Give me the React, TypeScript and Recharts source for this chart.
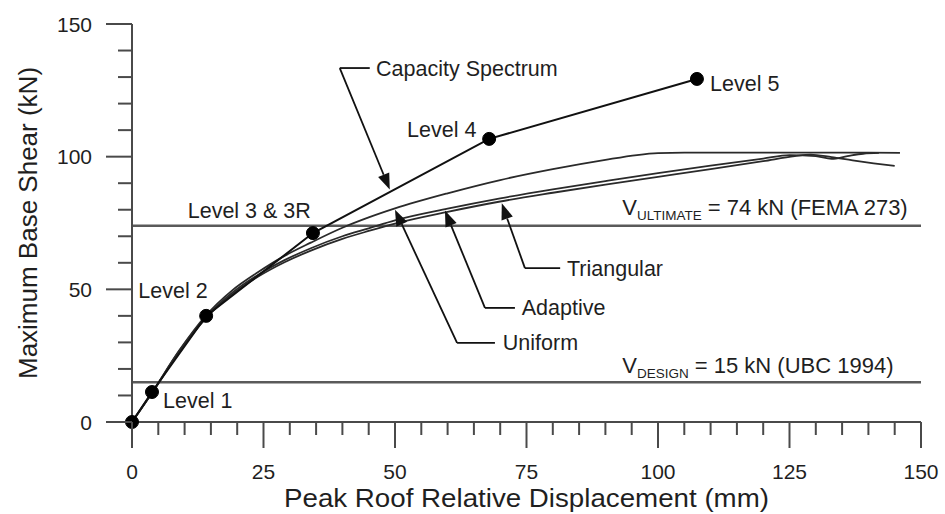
import { LineChart, Line, XAxis, YAxis, ReferenceLine, ReferenceDot, Label } from "recharts";

const FONT = '"Liberation Sans", Arial, sans-serif';
const INK = "#1f1f1f";

// capacity spectrum performance levels
const capacityX = [0, 3.8, 14.1, 34.4, 67.9, 107.4];
const capacityY = [0, 11.3, 40, 71.2, 106.7, 129.3];

// pushover curves for the three load patterns
const uniformX = [0, 4, 9, 14, 19, 24, 29, 34, 40, 45, 50, 60, 70, 80, 90, 96, 100, 105, 110, 120, 130, 140, 146];
const uniformY = [0, 11.7, 27, 40, 49.5, 56.5, 62.6, 67.6, 73.2, 77.1, 80.5, 86.2, 91.2, 95.3, 98.8, 100.6, 101.3, 101.5, 101.5, 101.5, 101.5, 101.5, 101.4];

const adaptiveX = [0, 4, 9, 14, 19, 24, 29, 34, 40, 45, 50, 60, 70, 80, 90, 100, 110, 120, 125, 130, 133, 136, 139, 142];
const adaptiveY = [0, 11.6, 26.8, 39.4, 48.6, 55.5, 61, 65.5, 70, 73, 76, 80.4, 84.3, 87.7, 90.8, 93.8, 96.6, 99.3, 100.6, 100.2, 99.2, 100.2, 101.1, 101.4];

const triangularX = [0, 4, 9, 14, 19, 24, 29, 34, 40, 45, 50, 60, 70, 80, 90, 100, 110, 120, 126, 129, 133, 137, 141, 145];
const triangularY = [0, 11.5, 26.5, 39, 48, 54.8, 60.2, 64.6, 69, 72, 74.8, 79.2, 83.1, 86.4, 89.5, 92.4, 95.3, 98.3, 100.2, 100.8, 99.8, 98.6, 97.5, 96.5];

const xTicks = [0, 5, 10, 15, 20, 25, 30, 35, 40, 45, 50, 55, 60, 65, 70, 75, 80, 85, 90, 95, 100, 105, 110, 115, 120, 125, 130, 135, 140, 145, 150];
const yTicks = [0, 10, 20, 30, 40, 50, 60, 70, 80, 90, 100, 110, 120, 130, 140, 150];

const vUltimate = 74;
const vDesign = 15;

const toPoints = (xs: number[], ys: number[]) => xs.map((x, i) => ({ x, y: ys[i] }));

// text annotations, placed in data units (left edge, vertical centre)
const notes = [
  { text: "Level 1", x: 5.9, y: 8.3 },
  { text: "Level 2", x: 1.2, y: 49.6 },
  { text: "Level 3 & 3R", x: 10.6, y: 79.9 },
  { text: "Level 4", x: 52.3, y: 110.4 },
  { text: "Level 5", x: 109.9, y: 127.4 },
  { text: "Capacity Spectrum", x: 46.4, y: 133.4 },
  { text: "Triangular", x: 82.7, y: 58 },
  { text: "Adaptive", x: 74.1, y: 43 },
  { text: "Uniform", x: 70.5, y: 29.8 },
];

// leader arrows: short horizontal run from the label, then a pointer to the curve
const arrows = [
  { start: { x: 45.2, y: 133.4 }, elbow: { x: 39.5, y: 133.4 }, tip: { x: 49, y: 87.6 } },
  { start: { x: 81.4, y: 58 }, elbow: { x: 74.7, y: 58 }, tip: { x: 70.3, y: 82.4 } },
  { start: { x: 72.8, y: 43 }, elbow: { x: 67.1, y: 43 }, tip: { x: 59.5, y: 79.7 } },
  { start: { x: 69, y: 29.8 }, elbow: { x: 61.8, y: 29.8 }, tip: { x: 50, y: 80 } },
];

const limits = [
  { main: "V", sub: "ULTIMATE", rest: " = 74 kN (FEMA 273)", x: 93.2, y: 81 },
  { main: "V", sub: "DESIGN", rest: " = 15 kN (UBC 1994)", x: 93.2, y: 21.5 },
];

const XTick = (props: any) => {
  const { x, y, payload } = props;
  const major = payload.value % 25 === 0;
  return (
    <g>
      <line x1={x} y1={y} x2={x} y2={y + (major ? 26 : 13)} stroke="#4a4a4a" strokeWidth={2} />
      {major && (
        <text x={x} y={y + 49} dy="0.36em" textAnchor="middle" fontSize={21} fontFamily={FONT} fill={INK}>
          {payload.value}
        </text>
      )}
    </g>
  );
};

const YTick = (props: any) => {
  const { x, y, payload } = props;
  const major = payload.value % 50 === 0;
  return (
    <g>
      <line x1={x} y1={y} x2={x - (major ? 26 : 14)} y2={y} stroke="#4a4a4a" strokeWidth={2} />
      {major && (
        <text x={x - 40} y={y} dy="0.36em" textAnchor="end" fontSize={21} fontFamily={FONT} fill={INK}>
          {payload.value}
        </text>
      )}
    </g>
  );
};

const arrowShape = (p: any) => {
  const { x1, y1, x2, y2 } = p;
  const dx = x2 - x1;
  const dy = y2 - y1;
  const len = Math.hypot(dx, dy) || 1;
  const ux = dx / len;
  const uy = dy / len;
  const bx = x2 - ux * 16;
  const by = y2 - uy * 16;
  const pts = `${x2},${y2} ${bx - uy * 6},${by + ux * 6} ${bx + uy * 6},${by - ux * 6}`;
  return (
    <g>
      <line x1={x1} y1={y1} x2={bx} y2={by} stroke="#111" strokeWidth={1.8} />
      <polygon points={pts} fill="#111" />
    </g>
  );
};

const noteShape = (text: string) => (p: any) => (
  <text x={p.cx} y={p.cy} dy="0.35em" fontSize={21.5} fontFamily={FONT} fill={INK}>
    {text}
  </text>
);

const limitShape = (l: (typeof limits)[number]) => (p: any) => (
  <text x={p.cx} y={p.cy} dy="0.35em" fontSize={22} fontFamily={FONT} fill={INK}>
    {l.main}
    <tspan fontSize={13.5} dy={5}>{l.sub}</tspan>
    <tspan dy={-5}>{l.rest}</tspan>
  </text>
);

const xTitle = (p: any) => {
  const vb = p.viewBox;
  return (
    <text
      x={vb.x + vb.width / 2}
      y={vb.y + 85}
      textAnchor="middle"
      fontSize={25}
      fontFamily={FONT}
      fill={INK}
      textLength={485}
      lengthAdjust="spacingAndGlyphs"
    >
      Peak Roof Relative Displacement (mm)
    </text>
  );
};

const yTitle = (p: any) => {
  const vb = p.viewBox;
  const cx = vb.x + 28;
  const cy = vb.y + vb.height / 2;
  return (
    <text x={cx} y={cy} dy="0.35em" transform={`rotate(-90 ${cx} ${cy})`} textAnchor="middle" fontSize={26} fontFamily={FONT} fill={INK}>
      Maximum Base Shear (kN)
    </text>
  );
};

export default function App() {
  return (
    <div style={{ position: "absolute", left: 0, top: 0, background: "#fff" }}>
      <LineChart width={945} height={514} margin={{ top: 24, right: 24, bottom: 0, left: 0 }}>
        <XAxis
          type="number"
          dataKey="x"
          domain={[0, 150]}
          ticks={xTicks}
          tick={<XTick />}
          tickLine={false}
          tickSize={0}
          tickMargin={0}
          height={92}
          axisLine={{ stroke: "#4a4a4a", strokeWidth: 2 }}
          interval={0}
        >
          <Label content={xTitle} />
        </XAxis>
        <YAxis
          type="number"
          dataKey="y"
          domain={[0, 150]}
          ticks={yTicks}
          tick={<YTick />}
          tickLine={false}
          tickSize={0}
          tickMargin={0}
          width={132}
          axisLine={{ stroke: "#4a4a4a", strokeWidth: 2 }}
          interval={0}
        >
          <Label content={yTitle} />
        </YAxis>

        <ReferenceLine y={vUltimate} stroke="#5a5a5a" strokeWidth={2.5} />
        <ReferenceLine y={vDesign} stroke="#5a5a5a" strokeWidth={2.5} />

        <Line data={toPoints(uniformX, uniformY)} dataKey="y" type="monotone" stroke="#2a2a2a" strokeWidth={1.8} dot={false} isAnimationActive={false} />
        <Line data={toPoints(adaptiveX, adaptiveY)} dataKey="y" type="monotone" stroke="#2a2a2a" strokeWidth={1.8} dot={false} isAnimationActive={false} />
        <Line data={toPoints(triangularX, triangularY)} dataKey="y" type="monotone" stroke="#2a2a2a" strokeWidth={1.8} dot={false} isAnimationActive={false} />
        <Line
          data={toPoints(capacityX, capacityY)}
          dataKey="y"
          type="linear"
          stroke="#111"
          strokeWidth={2}
          dot={{ r: 6.5, fill: "#000", stroke: "#000", strokeWidth: 1 }}
          isAnimationActive={false}
        />

        {arrows.map((a, i) => (
          <ReferenceLine key={`h${i}`} segment={[a.start, a.elbow]} stroke="#111" strokeWidth={1.8} />
        ))}
        {arrows.map((a, i) => (
          <ReferenceLine key={`a${i}`} segment={[a.elbow, a.tip]} shape={arrowShape} />
        ))}
        {notes.map((n) => (
          <ReferenceDot key={n.text} x={n.x} y={n.y} r={0} shape={noteShape(n.text)} />
        ))}
        {limits.map((l) => (
          <ReferenceDot key={l.sub} x={l.x} y={l.y} r={0} shape={limitShape(l)} />
        ))}
      </LineChart>
    </div>
  );
}
